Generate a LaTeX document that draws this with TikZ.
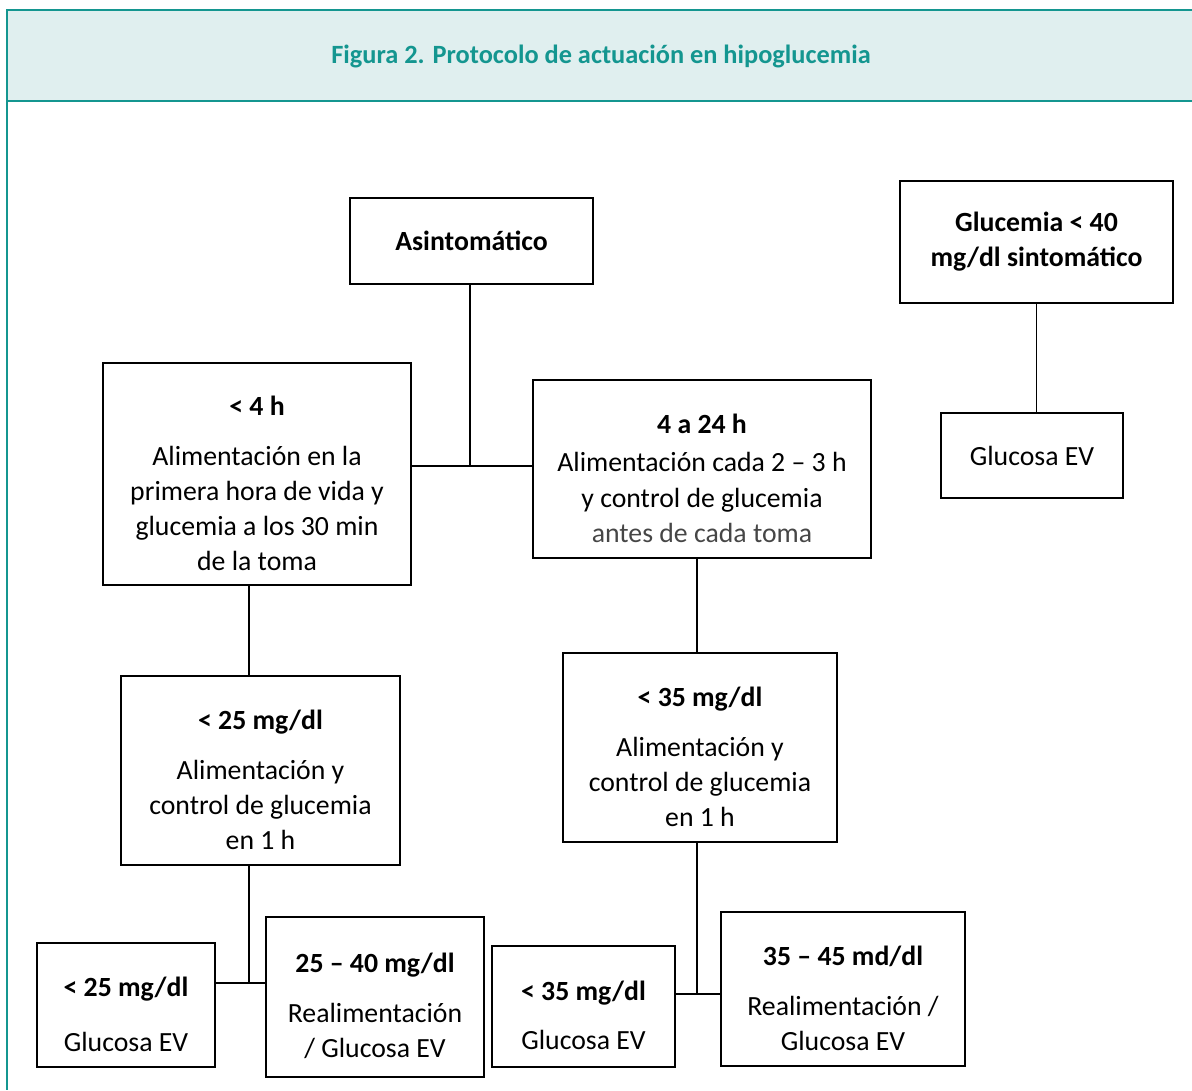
\documentclass[tikz,border=0pt]{standalone}
\usepackage{fontspec}
\setmainfont{Carlito}
\usetikzlibrary{positioning}
\definecolor{tealline}{RGB}{20,150,144}
\definecolor{tealfill}{RGB}{224,239,239}
\definecolor{greytext}{RGB}{70,70,70}
\newcommand{\hd}[1]{\rule{0pt}{21.5pt}\textbf{#1}}
\tikzset{
    box/.style={shape=rectangle,draw,line width=0.8pt,align=center,inner sep=0pt,font=\fontsize{15.8}{20}\selectfont},
    sz/.style 2 args={minimum width=#1*0.02cm,minimum height=#2*0.02cm},
    link/.style={line width=0.8pt},
    frame/.style={tealline,line width=1.6pt},
  }

\begin{document}
\begin{tikzpicture}[x=0.02cm,y=-0.02cm]
    \useasboundingbox (0,0) rectangle (1192,1090);
    % header band
    \fill[tealfill] (7,10) rectangle (1192,101);
    \draw[frame] (1192,10) -- (7,10) -- (7,1090);
    \draw[frame] (7,101) -- (1192,101);
    \node[font=\bfseries\fontsize{15}{18}\selectfont,text=tealline] (title) at (601,56) {Figura 2. Protocolo de actuación en hipoglucemia};
    % create the nodes
    \node[box,sz={243}{86}] (asin) at (471.5,241) {\textbf{Asintomático}};
    \node[box,sz={273}{122}] (gsin) at (1036.5,242) {\textbf{Glucemia < 40}\\\textbf{mg/dl sintomático}};
    \node[box,sz={182}{85}] (gev) at (1032,455.5) {Glucosa EV};
    \node[box,sz={308}{222}] (h4) at (257,474) {\hd{< 4 h}\\[8.5pt]Alimentación en la\\primera hora de vida y\\glucemia a los 30 min\\de la toma};
    \node[box,sz={338}{178}] (h24) at (702,469) {\hd{4 a 24 h}\\[2pt]Alimentación cada 2 – 3 h\\y control de glucemia\\\textcolor{greytext}{antes de cada toma}};
    \node[box,sz={279}{189}] (m25) at (260.5,770.5) {\hd{< 25 mg/dl}\\[8.5pt]Alimentación y\\control de glucemia\\en 1 h};
    \node[box,sz={274}{189}] (m35) at (700,747.5) {\hd{< 35 mg/dl}\\[8.5pt]Alimentación y\\control de glucemia\\en 1 h};
    \node[box,sz={178}{124}] (b25) at (126,1005) {\hd{< 25 mg/dl}\\[11pt]Glucosa EV};
    \node[box,sz={218}{160}] (r25) at (375,997) {\hd{25 – 40 mg/dl}\\[8.5pt]Realimentación\\/ Glucosa EV};
    \node[box,sz={183}{121}] (b35) at (583.5,1006.5) {\hd{< 35 mg/dl}\\[8pt]Glucosa EV};
    \node[box,sz={244}{154}] (r35) at (843,989) {\hd{35 – 45 md/dl}\\[8.5pt]Realimentación /\\Glucosa EV};
    % junctions
    \coordinate (j1) at (470,466);
    \coordinate (j2) at (249,983);
    \coordinate (j3) at (697,994);
    % connectors
    \draw[link] (asin.south -| j1) -- (j1);
    \draw[link] (h4.east |- j1) -- (h24.west |- j1);
    \draw[link] (gsin.south) -- (gsin.south |- gev.north);
    \draw[link] (h4.south -| j2) -- (m25.north -| j2);
    \draw[link] (m25.south -| j2) -- (j2);
    \draw[link] (b25.east |- j2) -- (r25.west |- j2);
    \draw[link] (h24.south -| j3) -- (m35.north -| j3);
    \draw[link] (m35.south -| j3) -- (j3);
    \draw[link] (b35.east |- j3) -- (r35.west |- j3);
\end{tikzpicture}
\end{document}
